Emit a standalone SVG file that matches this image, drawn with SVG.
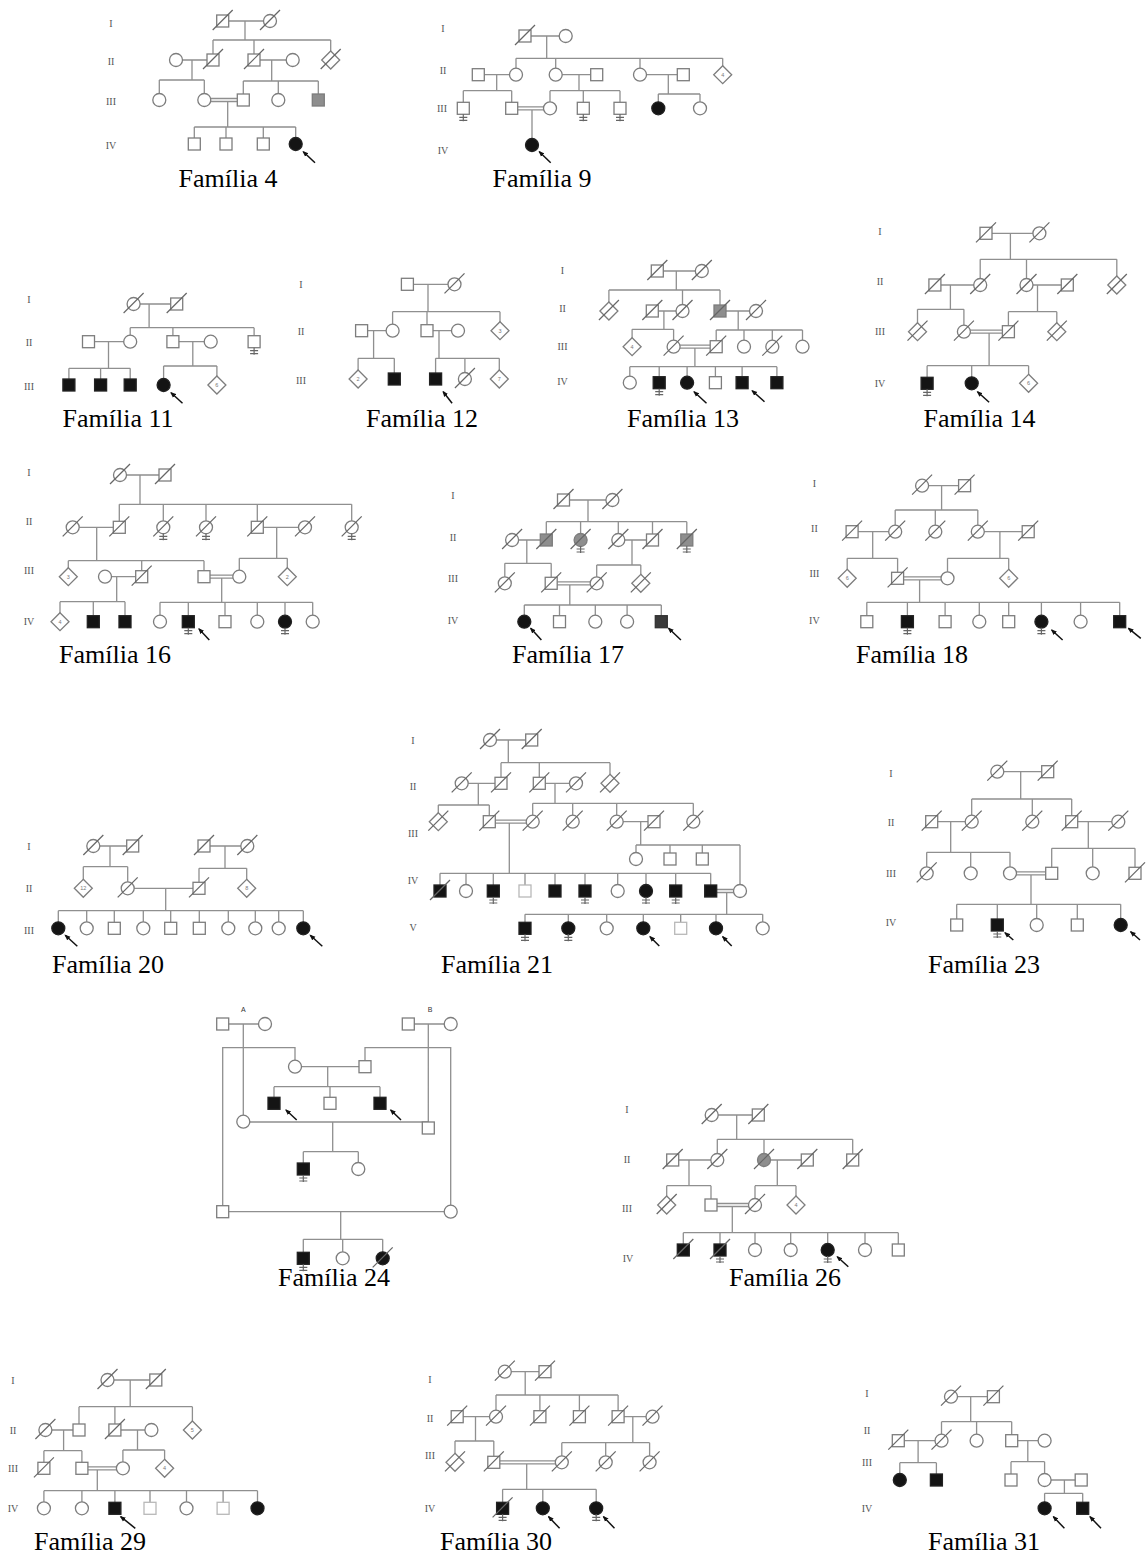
<svg xmlns="http://www.w3.org/2000/svg" xmlns:xlink="http://www.w3.org/1999/xlink" width="1147" height="1557" viewBox="0 0 1147 1557">
<defs>
<style>
.l{fill:none;stroke:#8f8f8f;stroke-width:1.3}
.s{fill:#fff;stroke:#7d7d7d;stroke-width:1.3}
.a{fill:#141414;stroke:#222}
.h{fill:#8e8e8e}
.dk{fill:#3a3a3a;stroke:#333}
.lt{stroke:#b8b8b8}
.k{fill:none;stroke:#666;stroke-width:1.2}
.ar{fill:none;stroke:#111;stroke-width:1.5;marker-end:url(#ah)}
.g{font-family:"Liberation Serif",serif;font-size:10px;fill:#555;text-anchor:middle}
.t{font-family:"Liberation Serif",serif;font-size:26px;fill:#000;text-anchor:middle}
.n{font-family:"Liberation Sans",sans-serif;font-size:5.5px;fill:#777;text-anchor:middle}
.ab{font-family:"Liberation Sans",sans-serif;font-size:7px;fill:#333;text-anchor:middle}
</style>
<marker id="ah" viewBox="0 0 10 10" refX="8" refY="5" markerWidth="6" markerHeight="6" markerUnits="userSpaceOnUse" orient="auto"><path d="M0,1L10,5L0,9z" fill="#111"/></marker>
<rect id="S" x="-6" y="-6" width="12" height="12"/>
<circle id="C" r="6.5"/>
<path id="D" d="M0,-9L9,0L0,9L-9,0Z"/>
<path id="X" d="M-10,9L10,-11"/>
<path id="E" d="M0,6V13M-4,9H4M-4,12H4"/>
</defs>
<rect width="1147" height="1557" fill="#fff"/>

<!-- Familia 4 -->
<g id="fam4">
<g class="g"><text x="111" y="27">I</text><text x="111" y="65">II</text><text x="111" y="105">III</text><text x="111" y="149">IV</text></g>
<g id="fam4-links" class="l"><path d="M222.7,21H270M245,21V40M213,40H330.7M213,40V60M254,40V60M330.7,40V60M176,60H213M192,60V80M159.3,80H204.3M159.3,80V100M204.3,80V100M254,60H292.7M271.7,60V81M243.3,81H318.3M243.3,81V100M278.3,81V100M318.3,81V100M204.3,98.5H243.3M204.3,101.5H243.3M227.7,101.5V127M194.3,127H295.7M194.3,127V144M226,127V144M263.3,127V144M295.7,127V144"/></g>
<g id="fam4-nodes">
<use href="#S" x="222.7" y="21" class="s"/><use href="#X" x="222.7" y="21" class="k"/>
<use href="#C" x="270" y="21" class="s"/><use href="#X" x="270" y="21" class="k"/>
<use href="#C" x="176" y="60" class="s"/>
<use href="#S" x="213" y="60" class="s"/><use href="#X" x="213" y="60" class="k"/>
<use href="#S" x="254" y="60" class="s"/><use href="#X" x="254" y="60" class="k"/>
<use href="#C" x="292.7" y="60" class="s"/>
<use href="#D" x="330.7" y="60" class="s"/><use href="#X" x="330.7" y="60" class="k"/>
<use href="#C" x="159.3" y="100" class="s"/>
<use href="#C" x="204.3" y="100" class="s"/>
<use href="#S" x="243.3" y="100" class="s"/>
<use href="#C" x="278.3" y="100" class="s"/>
<use href="#S" x="318.3" y="100" class="s h"/>
<use href="#S" x="194.3" y="144" class="s"/>
<use href="#S" x="226" y="144" class="s"/>
<use href="#S" x="263.3" y="144" class="s"/>
<use href="#C" x="295.7" y="144" class="s a"/>
</g>
<path class="ar" d="M315,162.7L303.3,151.7"/>
<text class="t" x="228" y="187">Família 4</text>
</g>

<!-- Familia 9 -->
<g id="fam9">
<g class="g"><text x="443" y="32">I</text><text x="443" y="74">II</text><text x="442" y="112">III</text><text x="443" y="154">IV</text></g>
<g id="fam9-links" class="l"><path d="M525,36H565.7M546.7,36V58.3M516,58.3H722.7M516,58.3V74.7M555.7,58.3V74.7M640,58.3V74.7M722.7,58.3V74.7M478.3,74.7H516M496.7,74.7V90.7M463.3,90.7H511.7M463.3,90.7V108.3M511.7,90.7V108.3M555.7,74.7H596.7M579,74.7V90.7M550,90.7H620M550,90.7V108.3M583.3,90.7V108.3M620,90.7V108.3M640,74.7H683.3M668.3,74.7V94M658.3,94H700M658.3,94V108.3M700,94V108.3M511.7,106.8H550M511.7,109.8H550M532,109.8V145"/></g>
<g id="fam9-nodes">
<use href="#S" x="525" y="36" class="s"/><use href="#X" x="525" y="36" class="k"/>
<use href="#C" x="565.7" y="36" class="s"/>
<use href="#S" x="478.3" y="74.7" class="s"/>
<use href="#C" x="516" y="74.7" class="s"/>
<use href="#C" x="555.7" y="74.7" class="s"/>
<use href="#S" x="596.7" y="74.7" class="s"/>
<use href="#C" x="640" y="74.7" class="s"/>
<use href="#S" x="683.3" y="74.7" class="s"/>
<use href="#D" x="722.7" y="74.7" class="s"/><text class="n" x="722.7" y="76.7">4</text>
<use href="#S" x="463.3" y="108.3" class="s"/><use href="#E" x="463.3" y="108.3" class="k"/>
<use href="#S" x="511.7" y="108.3" class="s"/>
<use href="#C" x="550" y="108.3" class="s"/>
<use href="#S" x="583.3" y="108.3" class="s"/><use href="#E" x="583.3" y="108.3" class="k"/>
<use href="#S" x="620" y="108.3" class="s"/><use href="#E" x="620" y="108.3" class="k"/>
<use href="#C" x="658.3" y="108.3" class="s a"/>
<use href="#C" x="700" y="108.3" class="s"/>
<use href="#C" x="532" y="145" class="s a"/>
</g>
<path class="ar" d="M550.7,162.7L539.3,151.7"/>
<text class="t" x="542" y="187">Família 9</text>
</g>

<!-- Familia 11 -->
<g id="fam11">
<g class="g"><text x="29" y="302.5">I</text><text x="29" y="346">II</text><text x="29" y="389.5">III</text></g>
<g id="fam11-links" class="l"><path d="M133.6,304H176.7M149.1,304V327.7M130.2,327.7H254.1M130.2,327.7V341.7M172.9,327.7V341.7M254.1,327.7V341.7M88.5,341.7H130.2M108.5,341.7V368.3M68.9,368.3H130.2M68.9,368.3V385M100.6,368.3V385M130.2,368.3V385M172.9,341.7H210.7M192.8,341.7V366M163.6,366H216.9M163.6,366V385M216.9,366V385"/></g>
<g id="fam11-nodes">
<use href="#C" x="133.6" y="304" class="s"/><use href="#X" x="133.6" y="304" class="k"/>
<use href="#S" x="176.7" y="304" class="s"/><use href="#X" x="176.7" y="304" class="k"/>
<use href="#S" x="88.5" y="341.7" class="s"/>
<use href="#C" x="130.2" y="341.7" class="s"/>
<use href="#S" x="172.9" y="341.7" class="s"/>
<use href="#C" x="210.7" y="341.7" class="s"/>
<use href="#S" x="254.1" y="341.7" class="s"/><use href="#E" x="254.1" y="341.7" class="k"/>
<use href="#S" x="68.9" y="385" class="s a"/>
<use href="#S" x="100.6" y="385" class="s a"/>
<use href="#S" x="130.2" y="385" class="s a"/>
<use href="#C" x="163.6" y="385" class="s a"/>
<use href="#D" x="216.9" y="385" class="s"/><text class="n" x="216.9" y="387">6</text>
</g>
<path class="ar" d="M182.5,403.3L171.1,392.7"/>
<text class="t" x="118" y="427">Família 11</text>
</g>

<!-- Familia 12 -->
<g id="fam12">
<g class="g"><text x="301" y="288">I</text><text x="301" y="335">II</text><text x="301" y="383.5">III</text></g>
<g id="fam12-links" class="l"><path d="M407.4,284.3H454.5M428,284.3V311.7M392.6,311.7H500M392.6,311.7V330.7M427,311.7V330.7M500,311.7V330.7M361.6,330.7H392.6M373.6,330.7V358.3M358.1,358.3H394.3M358.1,358.3V379M394.3,358.3V379M427,330.7H458M439,330.7V358.3M435.6,358.3H499.3M435.6,358.3V379M464.9,358.3V379M499.3,358.3V379"/></g>
<g id="fam12-nodes">
<use href="#S" x="407.4" y="284.3" class="s"/>
<use href="#C" x="454.5" y="284.3" class="s"/><use href="#X" x="454.5" y="284.3" class="k"/>
<use href="#S" x="361.6" y="330.7" class="s"/>
<use href="#C" x="392.6" y="330.7" class="s"/>
<use href="#S" x="427" y="330.7" class="s"/>
<use href="#C" x="458" y="330.7" class="s"/>
<use href="#D" x="500" y="330.7" class="s"/><text class="n" x="500" y="332.7">3</text>
<use href="#D" x="358.1" y="379" class="s"/><text class="n" x="358.1" y="381">2</text>
<use href="#S" x="394.3" y="379" class="s a"/>
<use href="#S" x="435.6" y="379" class="s a"/>
<use href="#C" x="464.9" y="379" class="s"/><use href="#X" x="464.9" y="379" class="k"/>
<use href="#D" x="499.3" y="379" class="s"/><text class="n" x="499.3" y="381">7</text>
</g>
<path class="ar" d="M452.1,403.3L443.2,391.7"/>
<text class="t" x="422" y="427">Família 12</text>
</g>

<!-- Familia 13 -->
<g id="fam13">
<g class="g"><text x="562.5" y="273.5">I</text><text x="562.5" y="312">II</text><text x="562.5" y="349.5">III</text><text x="562.5" y="384.5">IV</text></g>
<g id="fam13-links" class="l"><path d="M657.3,271H701.8M676.3,271V290M608.9,290H720M608.9,290V311M682.5,290V311M720,290V311M652.3,311H682.5M663.9,311V329.3M632.1,329.3H673.6M632.1,329.3V346.7M673.6,329.3V346.7M720,311H756M738.2,311V330M716.2,330H802.5M716.2,330V346.7M744,330V346.7M772.3,330V346.7M802.5,330V346.7M673.6,345.2H716.2M673.6,348.2H716.2M694.9,348.2V366.7M629.8,366.7H776.9M629.8,366.7V382.7M659.2,366.7V382.7M687.1,366.7V382.7M715.4,366.7V382.7M742.1,366.7V382.7M776.9,366.7V382.7"/></g>
<g id="fam13-nodes">
<use href="#S" x="657.3" y="271" class="s"/><use href="#X" x="657.3" y="271" class="k"/>
<use href="#C" x="701.8" y="271" class="s"/><use href="#X" x="701.8" y="271" class="k"/>
<use href="#D" x="608.9" y="311" class="s"/><use href="#X" x="608.9" y="311" class="k"/>
<use href="#S" x="652.3" y="311" class="s"/><use href="#X" x="652.3" y="311" class="k"/>
<use href="#C" x="682.5" y="311" class="s"/><use href="#X" x="682.5" y="311" class="k"/>
<use href="#S" x="720" y="311" class="s h"/><use href="#X" x="720" y="311" class="k"/>
<use href="#C" x="756" y="311" class="s"/><use href="#X" x="756" y="311" class="k"/>
<use href="#D" x="632.1" y="346.7" class="s"/><text class="n" x="632.1" y="348.7">4</text>
<use href="#C" x="673.6" y="346.7" class="s"/><use href="#X" x="673.6" y="346.7" class="k"/>
<use href="#S" x="716.2" y="346.7" class="s"/><use href="#X" x="716.2" y="346.7" class="k"/>
<use href="#C" x="744" y="346.7" class="s"/>
<use href="#C" x="772.3" y="346.7" class="s"/><use href="#X" x="772.3" y="346.7" class="k"/>
<use href="#C" x="802.5" y="346.7" class="s"/>
<use href="#C" x="629.8" y="382.7" class="s"/>
<use href="#S" x="659.2" y="382.7" class="s a"/><use href="#E" x="659.2" y="382.7" class="k"/>
<use href="#C" x="687.1" y="382.7" class="s a"/>
<use href="#S" x="715.4" y="382.7" class="s"/>
<use href="#S" x="742.1" y="382.7" class="s a"/>
<use href="#S" x="776.9" y="382.7" class="s a"/>
</g>
<path class="ar" d="M706.5,403.3L694.1,391.7"/>
<path class="ar" d="M764.5,401.7L752.2,390.7"/>
<text class="t" x="683" y="427">Família 13</text>
</g>

<!-- Familia 14 -->
<g id="fam14">
<g class="g"><text x="880" y="235">I</text><text x="880" y="285">II</text><text x="880" y="335">III</text><text x="880" y="387">IV</text></g>
<g id="fam14-links" class="l"><path d="M986,233.3H1039.4M1010.4,233.3V259.3M980.2,259.3H1116.8M980.2,259.3V285M1026.5,259.3V285M1116.8,259.3V285M934.9,285H980.2M950.4,285V309.3M917.5,309.3H963.9M917.5,309.3V331.7M963.9,309.3V331.7M1026.5,285H1067.3M1037.5,285V311.7M1008.4,311.7H1056.8M1008.4,311.7V331.7M1056.8,311.7V331.7M963.9,330.2H1008.4M963.9,333.2H1008.4M989.1,333.2V365.7M927.1,365.7H1028.6M927.1,365.7V383.3M971.7,365.7V383.3M1028.6,365.7V383.3"/></g>
<g id="fam14-nodes">
<use href="#S" x="986" y="233.3" class="s"/><use href="#X" x="986" y="233.3" class="k"/>
<use href="#C" x="1039.4" y="233.3" class="s"/><use href="#X" x="1039.4" y="233.3" class="k"/>
<use href="#S" x="934.9" y="285" class="s"/><use href="#X" x="934.9" y="285" class="k"/>
<use href="#C" x="980.2" y="285" class="s"/><use href="#X" x="980.2" y="285" class="k"/>
<use href="#C" x="1026.5" y="285" class="s"/><use href="#X" x="1026.5" y="285" class="k"/>
<use href="#S" x="1067.3" y="285" class="s"/><use href="#X" x="1067.3" y="285" class="k"/>
<use href="#D" x="1116.8" y="285" class="s"/><use href="#X" x="1116.8" y="285" class="k"/>
<use href="#D" x="917.5" y="331.7" class="s"/><use href="#X" x="917.5" y="331.7" class="k"/>
<use href="#C" x="963.9" y="331.7" class="s"/><use href="#X" x="963.9" y="331.7" class="k"/>
<use href="#S" x="1008.4" y="331.7" class="s"/><use href="#X" x="1008.4" y="331.7" class="k"/>
<use href="#D" x="1056.8" y="331.7" class="s"/><use href="#X" x="1056.8" y="331.7" class="k"/>
<use href="#S" x="927.1" y="383.3" class="s a"/><use href="#E" x="927.1" y="383.3" class="k"/>
<use href="#C" x="971.7" y="383.3" class="s a"/>
<use href="#D" x="1028.6" y="383.3" class="s"/><text class="n" x="1028.6" y="385.3">6</text>
</g>
<path class="ar" d="M989.1,402.3L977.5,391.7"/>
<text class="t" x="979.5" y="427">Família 14</text>
</g>

<!-- Familia 16 -->
<g id="fam16">
<g class="g"><text x="29" y="476">I</text><text x="29" y="524.5">II</text><text x="29" y="573.5">III</text><text x="29" y="625">IV</text></g>
<g id="fam16-links" class="l"><path d="M120,475H165M140,475V504.3M119.3,504.3H351.7M119.3,504.3V527.3M163.3,504.3V527.3M206,504.3V527.3M257.3,504.3V527.3M351.7,504.3V527.3M72.7,527.3H119.3M96.7,527.3V560.7M68.3,560.7H204M68.3,560.7V576.7M141.7,560.7V576.7M204,560.7V576.7M105,576.7H141.7M116.7,576.7V601.7M60,601.7H125M60,601.7V621.7M93.3,601.7V621.7M125,601.7V621.7M257.3,527.3H305M276.7,527.3V558.3M239.3,558.3H287.3M239.3,558.3V576.7M287.3,558.3V576.7M204,575.2H239.3M204,578.2H239.3M221.7,578.2V602.3M160,602.3H312.7M160,602.3V621.7M188.3,602.3V621.7M225,602.3V621.7M257.3,602.3V621.7M285,602.3V621.7M312.7,602.3V621.7"/></g>
<g id="fam16-nodes">
<use href="#C" x="120" y="475" class="s"/><use href="#X" x="120" y="475" class="k"/>
<use href="#S" x="165" y="475" class="s"/><use href="#X" x="165" y="475" class="k"/>
<use href="#C" x="72.7" y="527.3" class="s"/><use href="#X" x="72.7" y="527.3" class="k"/>
<use href="#S" x="119.3" y="527.3" class="s"/><use href="#X" x="119.3" y="527.3" class="k"/>
<use href="#C" x="163.3" y="527.3" class="s"/><use href="#X" x="163.3" y="527.3" class="k"/><use href="#E" x="163.3" y="527.3" class="k"/>
<use href="#C" x="206" y="527.3" class="s"/><use href="#X" x="206" y="527.3" class="k"/><use href="#E" x="206" y="527.3" class="k"/>
<use href="#S" x="257.3" y="527.3" class="s"/><use href="#X" x="257.3" y="527.3" class="k"/>
<use href="#C" x="305" y="527.3" class="s"/><use href="#X" x="305" y="527.3" class="k"/>
<use href="#C" x="351.7" y="527.3" class="s"/><use href="#X" x="351.7" y="527.3" class="k"/><use href="#E" x="351.7" y="527.3" class="k"/>
<use href="#D" x="68.3" y="576.7" class="s"/><text class="n" x="68.3" y="578.7">3</text>
<use href="#C" x="105" y="576.7" class="s"/>
<use href="#S" x="141.7" y="576.7" class="s"/><use href="#X" x="141.7" y="576.7" class="k"/>
<use href="#S" x="204" y="576.7" class="s"/>
<use href="#C" x="239.3" y="576.7" class="s"/>
<use href="#D" x="287.3" y="576.7" class="s"/><text class="n" x="287.3" y="578.7">2</text>
<use href="#D" x="60" y="621.7" class="s"/><text class="n" x="60" y="623.7">4</text>
<use href="#S" x="93.3" y="621.7" class="s a"/>
<use href="#S" x="125" y="621.7" class="s a"/>
<use href="#C" x="160" y="621.7" class="s"/>
<use href="#S" x="188.3" y="621.7" class="s a"/><use href="#E" x="188.3" y="621.7" class="k"/>
<use href="#S" x="225" y="621.7" class="s"/>
<use href="#C" x="257.3" y="621.7" class="s"/>
<use href="#C" x="285" y="621.7" class="s a"/><use href="#E" x="285" y="621.7" class="k"/>
<use href="#C" x="312.7" y="621.7" class="s"/>
</g>
<path class="ar" d="M209.3,640L199,629"/>
<text class="t" x="115" y="663">Família 16</text>
</g>

<!-- Familia 17 -->
<g id="fam17">
<g class="g"><text x="453" y="498.5">I</text><text x="453" y="541">II</text><text x="453" y="582">III</text><text x="453" y="623.5">IV</text></g>
<g id="fam17-links" class="l"><path d="M563.5,500H612.4M588,500V521.7M546.3,521.7H686.8M546.3,521.7V540M580.6,521.7V540M618.3,521.7V540M652.5,521.7V540M686.8,521.7V540M512.1,540H546.3M526.8,540V563.3M504.8,563.3H551.2M504.8,563.3V583.3M551.2,563.3V583.3M618.3,540H652.5M632,540V565M596.7,565H640.8M596.7,565V583.3M640.8,565V583.3M551.2,581.8H596.7M551.2,584.8H596.7M569.8,584.8V605M524.3,605H661.3M524.3,605V621.7M559.5,605V621.7M595.3,605V621.7M627.1,605V621.7M661.3,605V621.7"/></g>
<g id="fam17-nodes">
<use href="#S" x="563.5" y="500" class="s"/><use href="#X" x="563.5" y="500" class="k"/>
<use href="#C" x="612.4" y="500" class="s"/><use href="#X" x="612.4" y="500" class="k"/>
<use href="#C" x="512.1" y="540" class="s"/><use href="#X" x="512.1" y="540" class="k"/>
<use href="#S" x="546.3" y="540" class="s h"/><use href="#X" x="546.3" y="540" class="k"/>
<use href="#C" x="580.6" y="540" class="s h"/><use href="#X" x="580.6" y="540" class="k"/><use href="#E" x="580.6" y="540" class="k"/>
<use href="#C" x="618.3" y="540" class="s"/><use href="#X" x="618.3" y="540" class="k"/>
<use href="#S" x="652.5" y="540" class="s"/><use href="#X" x="652.5" y="540" class="k"/>
<use href="#S" x="686.8" y="540" class="s h"/><use href="#X" x="686.8" y="540" class="k"/><use href="#E" x="686.8" y="540" class="k"/>
<use href="#C" x="504.8" y="583.3" class="s"/><use href="#X" x="504.8" y="583.3" class="k"/>
<use href="#S" x="551.2" y="583.3" class="s"/><use href="#X" x="551.2" y="583.3" class="k"/>
<use href="#C" x="596.7" y="583.3" class="s"/><use href="#X" x="596.7" y="583.3" class="k"/>
<use href="#D" x="640.8" y="583.3" class="s"/><use href="#X" x="640.8" y="583.3" class="k"/>
<use href="#C" x="524.3" y="621.7" class="s a"/>
<use href="#S" x="559.5" y="621.7" class="s"/>
<use href="#C" x="595.3" y="621.7" class="s"/>
<use href="#C" x="627.1" y="621.7" class="s"/>
<use href="#S" x="661.3" y="621.7" class="s dk"/>
</g>
<path class="ar" d="M541.4,640L530.7,628.3"/>
<path class="ar" d="M680.9,640L668.6,628.3"/>
<text class="t" x="568" y="663">Família 17</text>
</g>

<!-- Familia 18 -->
<g id="fam18">
<g class="g"><text x="814.4" y="487">I</text><text x="814.4" y="532">II</text><text x="814.4" y="577">III</text><text x="814.4" y="623.5">IV</text></g>
<g id="fam18-links" class="l"><path d="M922.1,485.7H964.6M941.6,485.7V510M895.2,510H977.8M895.2,510V531.7M935.3,510V531.7M977.8,510V531.7M852.1,531.7H895.2M872.7,531.7V558.3M847.2,558.3H897.6M847.2,558.3V578.3M897.6,558.3V578.3M977.8,531.7H1028.2M999.9,531.7V558.3M947.5,558.3H1008.7M947.5,558.3V578.3M1008.7,558.3V578.3M897.6,576.8H947.5M897.6,579.8H947.5M919.6,579.8V602.3M866.8,602.3H1119.7M866.8,602.3V621.7M907.4,602.3V621.7M945.1,602.3V621.7M979.3,602.3V621.7M1008.7,602.3V621.7M1041.4,602.3V621.7M1080.6,602.3V621.7M1119.7,602.3V621.7"/></g>
<g id="fam18-nodes">
<use href="#C" x="922.1" y="485.7" class="s"/><use href="#X" x="922.1" y="485.7" class="k"/>
<use href="#S" x="964.6" y="485.7" class="s"/><use href="#X" x="964.6" y="485.7" class="k"/>
<use href="#S" x="852.1" y="531.7" class="s"/><use href="#X" x="852.1" y="531.7" class="k"/>
<use href="#C" x="895.2" y="531.7" class="s"/><use href="#X" x="895.2" y="531.7" class="k"/>
<use href="#C" x="935.3" y="531.7" class="s"/><use href="#X" x="935.3" y="531.7" class="k"/>
<use href="#C" x="977.8" y="531.7" class="s"/><use href="#X" x="977.8" y="531.7" class="k"/>
<use href="#S" x="1028.2" y="531.7" class="s"/><use href="#X" x="1028.2" y="531.7" class="k"/>
<use href="#D" x="847.2" y="578.3" class="s"/><text class="n" x="847.2" y="580.3">6</text>
<use href="#S" x="897.6" y="578.3" class="s"/><use href="#X" x="897.6" y="578.3" class="k"/>
<use href="#C" x="947.5" y="578.3" class="s"/>
<use href="#D" x="1008.7" y="578.3" class="s"/><text class="n" x="1008.7" y="580.3">6</text>
<use href="#S" x="866.8" y="621.7" class="s"/>
<use href="#S" x="907.4" y="621.7" class="s a"/><use href="#E" x="907.4" y="621.7" class="k"/>
<use href="#S" x="945.1" y="621.7" class="s"/>
<use href="#C" x="979.3" y="621.7" class="s"/>
<use href="#S" x="1008.7" y="621.7" class="s"/>
<use href="#C" x="1041.4" y="621.7" class="s a"/><use href="#E" x="1041.4" y="621.7" class="k"/>
<use href="#C" x="1080.6" y="621.7" class="s"/>
<use href="#S" x="1119.7" y="621.7" class="s a"/>
</g>
<path class="ar" d="M1062.6,640L1051.7,630"/>
<path class="ar" d="M1140.8,638.3L1128.5,628.3"/>
<text class="t" x="912" y="663">Família 18</text>
</g>

<!-- Familia 20 -->
<g id="fam20">
<g class="g"><text x="29" y="850">I</text><text x="29" y="892">II</text><text x="29" y="933.5">III</text></g>
<g id="fam20-links" class="l"><path d="M93.3,846H132.7M110,846V866.7M83.3,866.7H127.7M83.3,866.7V888.3M127.7,866.7V888.3M204,846H247.3M225,846V868.3M199,868.3H246.7M199,868.3V888.3M246.7,868.3V888.3M127.7,888.3H199M165.7,888.3V910.7M58.3,910.7H303.3M58.3,910.7V928.3M86.7,910.7V928.3M114.3,910.7V928.3M143.3,910.7V928.3M170.7,910.7V928.3M199.3,910.7V928.3M228.3,910.7V928.3M255.3,910.7V928.3M278.7,910.7V928.3M303.3,910.7V928.3"/></g>
<g id="fam20-nodes">
<use href="#C" x="93.3" y="846" class="s"/><use href="#X" x="93.3" y="846" class="k"/>
<use href="#S" x="132.7" y="846" class="s"/><use href="#X" x="132.7" y="846" class="k"/>
<use href="#S" x="204" y="846" class="s"/><use href="#X" x="204" y="846" class="k"/>
<use href="#C" x="247.3" y="846" class="s"/><use href="#X" x="247.3" y="846" class="k"/>
<use href="#D" x="83.3" y="888.3" class="s"/><text class="n" x="83.3" y="890.3">12</text>
<use href="#C" x="127.7" y="888.3" class="s"/><use href="#X" x="127.7" y="888.3" class="k"/>
<use href="#S" x="199" y="888.3" class="s"/><use href="#X" x="199" y="888.3" class="k"/>
<use href="#D" x="246.7" y="888.3" class="s"/><text class="n" x="246.7" y="890.3">8</text>
<use href="#C" x="58.3" y="928.3" class="s a"/>
<use href="#C" x="86.7" y="928.3" class="s"/>
<use href="#S" x="114.3" y="928.3" class="s"/>
<use href="#C" x="143.3" y="928.3" class="s"/>
<use href="#S" x="170.7" y="928.3" class="s"/>
<use href="#S" x="199.3" y="928.3" class="s"/>
<use href="#C" x="228.3" y="928.3" class="s"/>
<use href="#C" x="255.3" y="928.3" class="s"/>
<use href="#C" x="278.7" y="928.3" class="s"/>
<use href="#C" x="303.3" y="928.3" class="s a"/>
</g>
<path class="ar" d="M77.3,946.3L65.3,935.3"/>
<path class="ar" d="M322.3,946.3L310.3,935.3"/>
<text class="t" x="108" y="973">Família 20</text>
</g>

<!-- Familia 21 -->
<g id="fam21">
<g class="g"><text x="413" y="743.5">I</text><text x="413" y="790">II</text><text x="413" y="837">III</text><text x="413" y="883.5">IV</text><text x="413" y="931">V</text></g>
<g id="fam21-links" class="l"><path d="M490,740H531.7M508.3,740V762.7M501,762.7H610M501,762.7V783.3M539.3,762.7V783.3M610,762.7V783.3M461.7,783.3H501M478.3,783.3V805M438.3,805H489.3M438.3,805V821.7M489.3,805V821.7M539.3,783.3H576M555,783.3V803.3M532.7,803.3H693.3M532.7,803.3V821.7M572.7,803.3V821.7M616.7,803.3V821.7M693.3,803.3V821.7M616.7,821.7H654M640.7,821.7V845M636,845H740M636,845V859M670,845V859M702.3,845V859M740,845V891M489.3,820.2H532.7M489.3,823.2H532.7M509.3,823.2V873.3M440,873.3H710.7M440,873.3V891M466,873.3V891M493.3,873.3V891M525,873.3V891M555,873.3V891M585,873.3V891M617.7,873.3V891M646,873.3V891M675.7,873.3V891M710.7,873.3V891M710.7,889.5H740M710.7,892.5H740M726.7,892.5V914.3M525,914.3H762.7M525,914.3V928.3M568.3,914.3V928.3M606.7,914.3V928.3M643.3,914.3V928.3M680.7,914.3V928.3M716,914.3V928.3M762.7,914.3V928.3"/></g>
<g id="fam21-nodes">
<use href="#C" x="490" y="740" class="s"/><use href="#X" x="490" y="740" class="k"/>
<use href="#S" x="531.7" y="740" class="s"/><use href="#X" x="531.7" y="740" class="k"/>
<use href="#C" x="461.7" y="783.3" class="s"/><use href="#X" x="461.7" y="783.3" class="k"/>
<use href="#S" x="501" y="783.3" class="s"/><use href="#X" x="501" y="783.3" class="k"/>
<use href="#S" x="539.3" y="783.3" class="s"/><use href="#X" x="539.3" y="783.3" class="k"/>
<use href="#C" x="576" y="783.3" class="s"/><use href="#X" x="576" y="783.3" class="k"/>
<use href="#D" x="610" y="783.3" class="s"/><use href="#X" x="610" y="783.3" class="k"/>
<use href="#D" x="438.3" y="821.7" class="s"/><use href="#X" x="438.3" y="821.7" class="k"/>
<use href="#S" x="489.3" y="821.7" class="s"/><use href="#X" x="489.3" y="821.7" class="k"/>
<use href="#C" x="532.7" y="821.7" class="s"/><use href="#X" x="532.7" y="821.7" class="k"/>
<use href="#C" x="572.7" y="821.7" class="s"/><use href="#X" x="572.7" y="821.7" class="k"/>
<use href="#C" x="616.7" y="821.7" class="s"/><use href="#X" x="616.7" y="821.7" class="k"/>
<use href="#S" x="654" y="821.7" class="s"/><use href="#X" x="654" y="821.7" class="k"/>
<use href="#C" x="693.3" y="821.7" class="s"/><use href="#X" x="693.3" y="821.7" class="k"/>
<use href="#C" x="636" y="859" class="s"/>
<use href="#S" x="670" y="859" class="s"/>
<use href="#S" x="702.3" y="859" class="s"/>
<use href="#S" x="440" y="891" class="s a"/><use href="#X" x="440" y="891" class="k"/>
<use href="#C" x="466" y="891" class="s"/>
<use href="#S" x="493.3" y="891" class="s a"/><use href="#E" x="493.3" y="891" class="k"/>
<use href="#S" x="525" y="891" class="s lt"/>
<use href="#S" x="555" y="891" class="s a"/>
<use href="#S" x="585" y="891" class="s a"/><use href="#E" x="585" y="891" class="k"/>
<use href="#C" x="617.7" y="891" class="s"/>
<use href="#C" x="646" y="891" class="s a"/><use href="#E" x="646" y="891" class="k"/>
<use href="#S" x="675.7" y="891" class="s a"/><use href="#E" x="675.7" y="891" class="k"/>
<use href="#S" x="710.7" y="891" class="s a"/>
<use href="#C" x="740" y="891" class="s"/>
<use href="#S" x="525" y="928.3" class="s a"/><use href="#E" x="525" y="928.3" class="k"/>
<use href="#C" x="568.3" y="928.3" class="s a"/><use href="#E" x="568.3" y="928.3" class="k"/>
<use href="#C" x="606.7" y="928.3" class="s"/>
<use href="#C" x="643.3" y="928.3" class="s a"/>
<use href="#S" x="680.7" y="928.3" class="s lt"/>
<use href="#C" x="716" y="928.3" class="s a"/>
<use href="#C" x="762.7" y="928.3" class="s"/>
</g>
<path class="ar" d="M659.3,946L650,936.7"/>
<path class="ar" d="M731.7,946L722.7,936.7"/>
<text class="t" x="497" y="973">Família 21</text>
</g>

<!-- Familia 23 -->
<g id="fam23">
<g class="g"><text x="891" y="777">I</text><text x="891" y="826">II</text><text x="891" y="877">III</text><text x="891" y="926">IV</text></g>
<g id="fam23-links" class="l"><path d="M997.3,771.7H1047.7M1020.7,771.7V799M971.7,799H1071.7M971.7,799V821.7M1032.3,799V821.7M1071.7,799V821.7M931.7,821.7H971.7M950.7,821.7V852.3M926.7,852.3H1010M926.7,852.3V873.3M970.7,852.3V873.3M1010,852.3V873.3M1071.7,821.7H1118.3M1088.3,821.7V848.3M1051.7,848.3H1135M1051.7,848.3V873.3M1092.7,848.3V873.3M1135,848.3V873.3M1010,871.8H1051.7M1010,874.8H1051.7M1031,874.8V904.3M956.7,904.3H1120.7M956.7,904.3V925M997.3,904.3V925M1036.7,904.3V925M1077.3,904.3V925M1120.7,904.3V925"/></g>
<g id="fam23-nodes">
<use href="#C" x="997.3" y="771.7" class="s"/><use href="#X" x="997.3" y="771.7" class="k"/>
<use href="#S" x="1047.7" y="771.7" class="s"/><use href="#X" x="1047.7" y="771.7" class="k"/>
<use href="#S" x="931.7" y="821.7" class="s"/><use href="#X" x="931.7" y="821.7" class="k"/>
<use href="#C" x="971.7" y="821.7" class="s"/><use href="#X" x="971.7" y="821.7" class="k"/>
<use href="#C" x="1032.3" y="821.7" class="s"/><use href="#X" x="1032.3" y="821.7" class="k"/>
<use href="#S" x="1071.7" y="821.7" class="s"/><use href="#X" x="1071.7" y="821.7" class="k"/>
<use href="#C" x="1118.3" y="821.7" class="s"/><use href="#X" x="1118.3" y="821.7" class="k"/>
<use href="#C" x="926.7" y="873.3" class="s"/><use href="#X" x="926.7" y="873.3" class="k"/>
<use href="#C" x="970.7" y="873.3" class="s"/>
<use href="#C" x="1010" y="873.3" class="s"/>
<use href="#S" x="1051.7" y="873.3" class="s"/>
<use href="#C" x="1092.7" y="873.3" class="s"/>
<use href="#S" x="1135" y="873.3" class="s"/><use href="#X" x="1135" y="873.3" class="k"/>
<use href="#S" x="956.7" y="925" class="s"/>
<use href="#S" x="997.3" y="925" class="s a"/><use href="#E" x="997.3" y="925" class="k"/>
<use href="#C" x="1036.7" y="925" class="s"/>
<use href="#S" x="1077.3" y="925" class="s"/>
<use href="#C" x="1120.7" y="925" class="s a"/>
</g>
<path class="ar" d="M1013.3,940L1005,932.7"/>
<path class="ar" d="M1140,940L1130.7,931.7"/>
<text class="t" x="984" y="973">Família 23</text>
</g>

<!-- Familia 24 -->
<g id="fam24">
<text class="ab" x="243.3" y="1012">A</text><text class="ab" x="430" y="1012">B</text>
<g id="fam24-links" class="l"><path d="M222.7,1024H265M243.3,1024V1121.7M408.3,1024H450.7M428.3,1024V1128M222.7,1211.7V1047.7H295V1066.7M450.7,1211.7V1047.7H365V1066.7M295,1066.7H365M327.7,1066.7V1086.7M274,1086.7H380M274,1086.7V1103.3M330,1086.7V1103.3M380,1086.7V1103.3M243.3,1122H428.3M332.7,1122V1151.7M303.3,1151.7H358.3M303.3,1151.7V1169M358.3,1151.7V1169M222.7,1211.7H450.7M340.7,1211.7V1239.3M303.3,1239.3H382.7M303.3,1239.3V1258.3M342.7,1239.3V1258.3M382.7,1239.3V1258.3"/></g>
<g id="fam24-nodes">
<use href="#S" x="222.7" y="1024" class="s"/>
<use href="#C" x="265" y="1024" class="s"/>
<use href="#S" x="408.3" y="1024" class="s"/>
<use href="#C" x="450.7" y="1024" class="s"/>
<use href="#C" x="295" y="1066.7" class="s"/>
<use href="#S" x="365" y="1066.7" class="s"/>
<use href="#S" x="274" y="1103.3" class="s a"/>
<use href="#S" x="330" y="1103.3" class="s"/>
<use href="#S" x="380" y="1103.3" class="s a"/>
<use href="#C" x="243.3" y="1121.7" class="s"/>
<use href="#S" x="428.3" y="1128" class="s"/>
<use href="#S" x="303.3" y="1169" class="s a"/><use href="#E" x="303.3" y="1169" class="k"/>
<use href="#C" x="358.3" y="1169" class="s"/>
<use href="#S" x="222.7" y="1211.7" class="s"/>
<use href="#C" x="450.7" y="1211.7" class="s"/>
<use href="#S" x="303.3" y="1258.3" class="s a"/><use href="#E" x="303.3" y="1258.3" class="k"/>
<use href="#C" x="342.7" y="1258.3" class="s"/>
<use href="#C" x="382.7" y="1258.3" class="s a"/><use href="#X" x="382.7" y="1258.3" class="k"/>
</g>
<path class="ar" d="M296.7,1120L286,1110"/>
<path class="ar" d="M401,1120L390.7,1110"/>
<text class="t" x="334" y="1286">Família 24</text>
</g>

<!-- Familia 26 -->
<g id="fam26">
<g class="g"><text x="627" y="1113">I</text><text x="627" y="1163">II</text><text x="627" y="1212">III</text><text x="628" y="1262">IV</text></g>
<g id="fam26-links" class="l"><path d="M711.7,1115H758.3M736.7,1115V1139.3M717.3,1139.3H852.7M717.3,1139.3V1160M764,1139.3V1160M852.7,1139.3V1160M672.7,1160H717.3M689,1160V1185.7M666.7,1185.7H711M666.7,1185.7V1205M711,1185.7V1205M764,1160H807.3M777.3,1160V1185.7M755,1185.7H796M755,1185.7V1205M796,1185.7V1205M711,1203.5H755M711,1206.5H755M732.3,1206.5V1232.7M683.3,1232.7H898.3M683.3,1232.7V1250M720,1232.7V1250M755,1232.7V1250M790.7,1232.7V1250M827.7,1232.7V1250M865,1232.7V1250M898.3,1232.7V1250"/></g>
<g id="fam26-nodes">
<use href="#C" x="711.7" y="1115" class="s"/><use href="#X" x="711.7" y="1115" class="k"/>
<use href="#S" x="758.3" y="1115" class="s"/><use href="#X" x="758.3" y="1115" class="k"/>
<use href="#S" x="672.7" y="1160" class="s"/><use href="#X" x="672.7" y="1160" class="k"/>
<use href="#C" x="717.3" y="1160" class="s"/><use href="#X" x="717.3" y="1160" class="k"/>
<use href="#C" x="764" y="1160" class="s h"/><use href="#X" x="764" y="1160" class="k"/>
<use href="#S" x="807.3" y="1160" class="s"/><use href="#X" x="807.3" y="1160" class="k"/>
<use href="#S" x="852.7" y="1160" class="s"/><use href="#X" x="852.7" y="1160" class="k"/>
<use href="#D" x="666.7" y="1205" class="s"/><use href="#X" x="666.7" y="1205" class="k"/>
<use href="#S" x="711" y="1205" class="s"/>
<use href="#C" x="755" y="1205" class="s"/><use href="#X" x="755" y="1205" class="k"/>
<use href="#D" x="796" y="1205" class="s"/><text class="n" x="796" y="1207">4</text>
<use href="#S" x="683.3" y="1250" class="s a"/><use href="#X" x="683.3" y="1250" class="k"/>
<use href="#S" x="720" y="1250" class="s a"/><use href="#X" x="720" y="1250" class="k"/><use href="#E" x="720" y="1250" class="k"/>
<use href="#C" x="755" y="1250" class="s"/>
<use href="#C" x="790.7" y="1250" class="s"/>
<use href="#C" x="827.7" y="1250" class="s a"/><use href="#E" x="827.7" y="1250" class="k"/>
<use href="#C" x="865" y="1250" class="s"/>
<use href="#S" x="898.3" y="1250" class="s"/>
</g>
<path class="ar" d="M848.3,1266.7L837.3,1256.7"/>
<text class="t" x="785" y="1286">Família 26</text>
</g>

<!-- Familia 29 -->
<g id="fam29">
<g class="g"><text x="13" y="1383.5">I</text><text x="13" y="1433.5">II</text><text x="13" y="1472">III</text><text x="13" y="1512">IV</text></g>
<g id="fam29-links" class="l"><path d="M107.5,1380H155.8M130.2,1380V1406.7M79,1406.7H192.4M79,1406.7V1430M114.9,1406.7V1430M192.4,1406.7V1430M45.4,1430H79M63.6,1430V1450.7M43.9,1450.7H81.9M43.9,1450.7V1468.3M81.9,1450.7V1468.3M114.9,1430H151.4M137.5,1430V1450M122.9,1450H164.6M122.9,1450V1468.3M164.6,1450V1468.3M81.9,1466.8H122.9M81.9,1469.8H122.9M97.3,1469.8V1490.7M43.9,1490.7H257.5M43.9,1490.7V1508.3M81.9,1490.7V1508.3M114.9,1490.7V1508.3M150,1490.7V1508.3M186.5,1490.7V1508.3M223.1,1490.7V1508.3M257.5,1490.7V1508.3"/></g>
<g id="fam29-nodes">
<use href="#C" x="107.5" y="1380" class="s"/><use href="#X" x="107.5" y="1380" class="k"/>
<use href="#S" x="155.8" y="1380" class="s"/><use href="#X" x="155.8" y="1380" class="k"/>
<use href="#C" x="45.4" y="1430" class="s"/><use href="#X" x="45.4" y="1430" class="k"/>
<use href="#S" x="79" y="1430" class="s"/>
<use href="#S" x="114.9" y="1430" class="s"/><use href="#X" x="114.9" y="1430" class="k"/>
<use href="#C" x="151.4" y="1430" class="s"/>
<use href="#D" x="192.4" y="1430" class="s"/><text class="n" x="192.4" y="1432">5</text>
<use href="#S" x="43.9" y="1468.3" class="s"/><use href="#X" x="43.9" y="1468.3" class="k"/>
<use href="#S" x="81.9" y="1468.3" class="s"/>
<use href="#C" x="122.9" y="1468.3" class="s"/>
<use href="#D" x="164.6" y="1468.3" class="s"/><text class="n" x="164.6" y="1470.3">4</text>
<use href="#C" x="43.9" y="1508.3" class="s"/>
<use href="#C" x="81.9" y="1508.3" class="s"/>
<use href="#S" x="114.9" y="1508.3" class="s a"/>
<use href="#S" x="150" y="1508.3" class="s lt"/>
<use href="#C" x="186.5" y="1508.3" class="s"/>
<use href="#S" x="223.1" y="1508.3" class="s lt"/>
<use href="#C" x="257.5" y="1508.3" class="s a"/>
</g>
<path class="ar" d="M135.3,1528.3L120.7,1516.7"/>
<text class="t" x="90" y="1550">Família 29</text>
</g>

<!-- Familia 30 -->
<g id="fam30">
<g class="g"><text x="430" y="1382.5">I</text><text x="430" y="1422">II</text><text x="430" y="1458.5">III</text><text x="430" y="1512">IV</text></g>
<g id="fam30-links" class="l"><path d="M504.8,1371.7H545M525.2,1371.7V1395M496,1395H618.1M496,1395V1416.7M539.9,1395V1416.7M579.4,1395V1416.7M618.1,1395V1416.7M457.2,1416.7H496M475.5,1416.7V1441M455,1441H493.8M455,1441V1462.3M493.8,1441V1462.3M618.1,1416.7H652.5M632.8,1416.7V1442.7M561.8,1442.7H649.6M561.8,1442.7V1462.3M605.7,1442.7V1462.3M649.6,1442.7V1462.3M493.8,1460.8H561.8M493.8,1463.8H561.8M526.7,1463.8V1489.3M502.6,1489.3H596.2M502.6,1489.3V1508.3M542.8,1489.3V1508.3M596.2,1489.3V1508.3"/></g>
<g id="fam30-nodes">
<use href="#C" x="504.8" y="1371.7" class="s"/><use href="#X" x="504.8" y="1371.7" class="k"/>
<use href="#S" x="545" y="1371.7" class="s"/><use href="#X" x="545" y="1371.7" class="k"/>
<use href="#S" x="457.2" y="1416.7" class="s"/><use href="#X" x="457.2" y="1416.7" class="k"/>
<use href="#C" x="496" y="1416.7" class="s"/><use href="#X" x="496" y="1416.7" class="k"/>
<use href="#S" x="539.9" y="1416.7" class="s"/><use href="#X" x="539.9" y="1416.7" class="k"/>
<use href="#S" x="579.4" y="1416.7" class="s"/><use href="#X" x="579.4" y="1416.7" class="k"/>
<use href="#S" x="618.1" y="1416.7" class="s"/><use href="#X" x="618.1" y="1416.7" class="k"/>
<use href="#C" x="652.5" y="1416.7" class="s"/><use href="#X" x="652.5" y="1416.7" class="k"/>
<use href="#D" x="455" y="1462.3" class="s"/><use href="#X" x="455" y="1462.3" class="k"/>
<use href="#S" x="493.8" y="1462.3" class="s"/><use href="#X" x="493.8" y="1462.3" class="k"/>
<use href="#C" x="561.8" y="1462.3" class="s"/><use href="#X" x="561.8" y="1462.3" class="k"/>
<use href="#C" x="605.7" y="1462.3" class="s"/><use href="#X" x="605.7" y="1462.3" class="k"/>
<use href="#C" x="649.6" y="1462.3" class="s"/><use href="#X" x="649.6" y="1462.3" class="k"/>
<use href="#S" x="502.6" y="1508.3" class="s a"/><use href="#X" x="502.6" y="1508.3" class="k"/><use href="#E" x="502.6" y="1508.3" class="k"/>
<use href="#C" x="542.8" y="1508.3" class="s a"/>
<use href="#C" x="596.2" y="1508.3" class="s a"/><use href="#E" x="596.2" y="1508.3" class="k"/>
</g>
<path class="ar" d="M559.6,1528.3L548.6,1516.7"/>
<path class="ar" d="M614.5,1528.3L603.5,1516.7"/>
<text class="t" x="496" y="1550">Família 30</text>
</g>

<!-- Familia 31 -->
<g id="fam31">
<g class="g"><text x="867" y="1397">I</text><text x="867" y="1434">II</text><text x="867" y="1466">III</text><text x="867" y="1512">IV</text></g>
<g id="fam31-links" class="l"><path d="M951,1396.7H993.4M970.7,1396.7V1421.7M941.5,1421.7H1011.7M941.5,1421.7V1440.7M976.6,1421.7V1440.7M1011.7,1421.7V1440.7M898.3,1440.7H941.5M918.1,1440.7V1462.7M899.8,1462.7H936.4M899.8,1462.7V1480M936.4,1462.7V1480M1011.7,1440.7H1044.6M1027.8,1440.7V1461.7M1011,1461.7H1044.6M1011,1461.7V1480M1044.6,1461.7V1480M1044.6,1480H1081.2M1064.4,1480V1493.3M1044.6,1493.3H1082.7M1044.6,1493.3V1508.3M1082.7,1493.3V1508.3"/></g>
<g id="fam31-nodes">
<use href="#C" x="951" y="1396.7" class="s"/><use href="#X" x="951" y="1396.7" class="k"/>
<use href="#S" x="993.4" y="1396.7" class="s"/><use href="#X" x="993.4" y="1396.7" class="k"/>
<use href="#S" x="898.3" y="1440.7" class="s"/><use href="#X" x="898.3" y="1440.7" class="k"/>
<use href="#C" x="941.5" y="1440.7" class="s"/><use href="#X" x="941.5" y="1440.7" class="k"/>
<use href="#C" x="976.6" y="1440.7" class="s"/>
<use href="#S" x="1011.7" y="1440.7" class="s"/>
<use href="#C" x="1044.6" y="1440.7" class="s"/>
<use href="#C" x="899.8" y="1480" class="s a"/>
<use href="#S" x="936.4" y="1480" class="s a"/>
<use href="#S" x="1011" y="1480" class="s"/>
<use href="#C" x="1044.6" y="1480" class="s"/>
<use href="#S" x="1081.2" y="1480" class="s"/>
<use href="#C" x="1044.6" y="1508.3" class="s a"/>
<use href="#S" x="1082.7" y="1508.3" class="s a"/>
</g>
<path class="ar" d="M1064.4,1528.3L1053.4,1516.7"/>
<path class="ar" d="M1101,1528.3L1090,1516.7"/>
<text class="t" x="984" y="1550">Família 31</text>
</g>
</svg>
